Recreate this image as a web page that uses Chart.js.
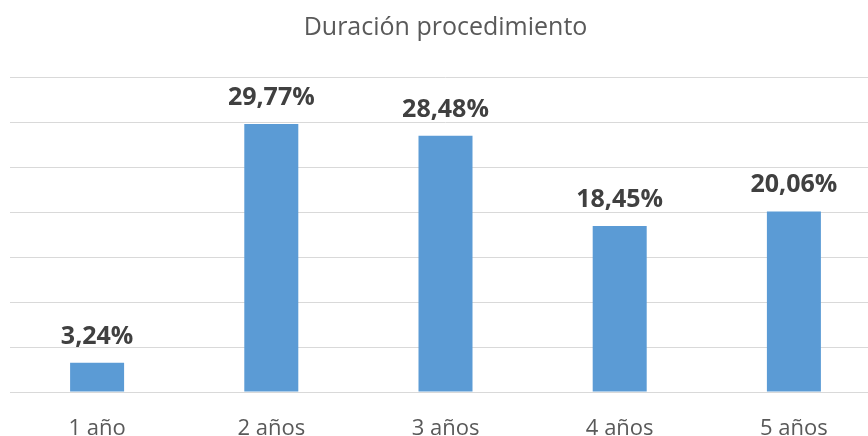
<!DOCTYPE html>
<html>
<head>
<meta charset="utf-8">
<script src="https://cdn.jsdelivr.net/npm/chart.js@4/dist/chart.umd.min.js"></script>
<style>
html,body{margin:0;padding:0;overflow:hidden;background:#fff;}
#wrap{width:891px;height:436px;position:relative;}
</style>
</head>
<body>
<div id="wrap"><canvas id="c" width="891" height="436"></canvas></div>
<script>
const categories = ["1 año", "2 años", "3 años", "4 años", "5 años"];
const values = [3.24, 29.77, 28.48, 18.45, 20.06];
const valueLabels = ["3,24%", "29,77%", "28,48%", "18,45%", "20,06%"];
const chartTitle = "Duración procedimiento";

const FONT = "'Open Sans', 'Liberation Sans', sans-serif";

const overlay = {
  id: 'overlay',
  afterDatasetsDraw(chart) {
    const ctx = chart.ctx;
    ctx.save();
    // title
    ctx.fillStyle = '#595959';
    ctx.font = "25px " + FONT;
    ctx.textAlign = 'center';
    ctx.textBaseline = 'alphabetic';
    ctx.fillText(chartTitle, chart.width / 2, 35);
    // value labels
    const meta = chart.getDatasetMeta(0);
    ctx.fillStyle = '#404040';
    ctx.font = "bold 25px " + FONT;
    meta.data.forEach((bar, i) => {
      ctx.fillText(valueLabels[i], bar.x, bar.y - 19);
    });
    ctx.restore();
  }
};

new Chart(document.getElementById('c'), {
  type: 'bar',
  data: {
    labels: categories,
    datasets: [{
      data: values,
      backgroundColor: '#5B9BD5',
      borderWidth: 0,
      barPercentage: 0.31,
      categoryPercentage: 1.0
    }]
  },
  options: {
    responsive: false,
    animation: false,
    devicePixelRatio: 1,
    layout: { padding: { left: 10, right: 10, top: 77, bottom: 0 } },
    plugins: { legend: { display: false }, title: { display: false }, tooltip: { enabled: false } },
    scales: {
      x: {
        grid: { display: false },
        border: { display: true, color: '#D9D9D9', width: 1 },
        ticks: { color: '#595959', font: { family: FONT, size: 22 }, padding: 16, maxRotation: 0 },
        afterFit(scale) { scale.height = 44; }
      },
      y: {
        min: 0, max: 35,
        ticks: { display: false, stepSize: 5 },
        border: { display: false },
        grid: { color: '#D9D9D9', lineWidth: 1, drawTicks: false }
      }
    }
  },
  plugins: [overlay]
});
</script>
</body>
</html>
